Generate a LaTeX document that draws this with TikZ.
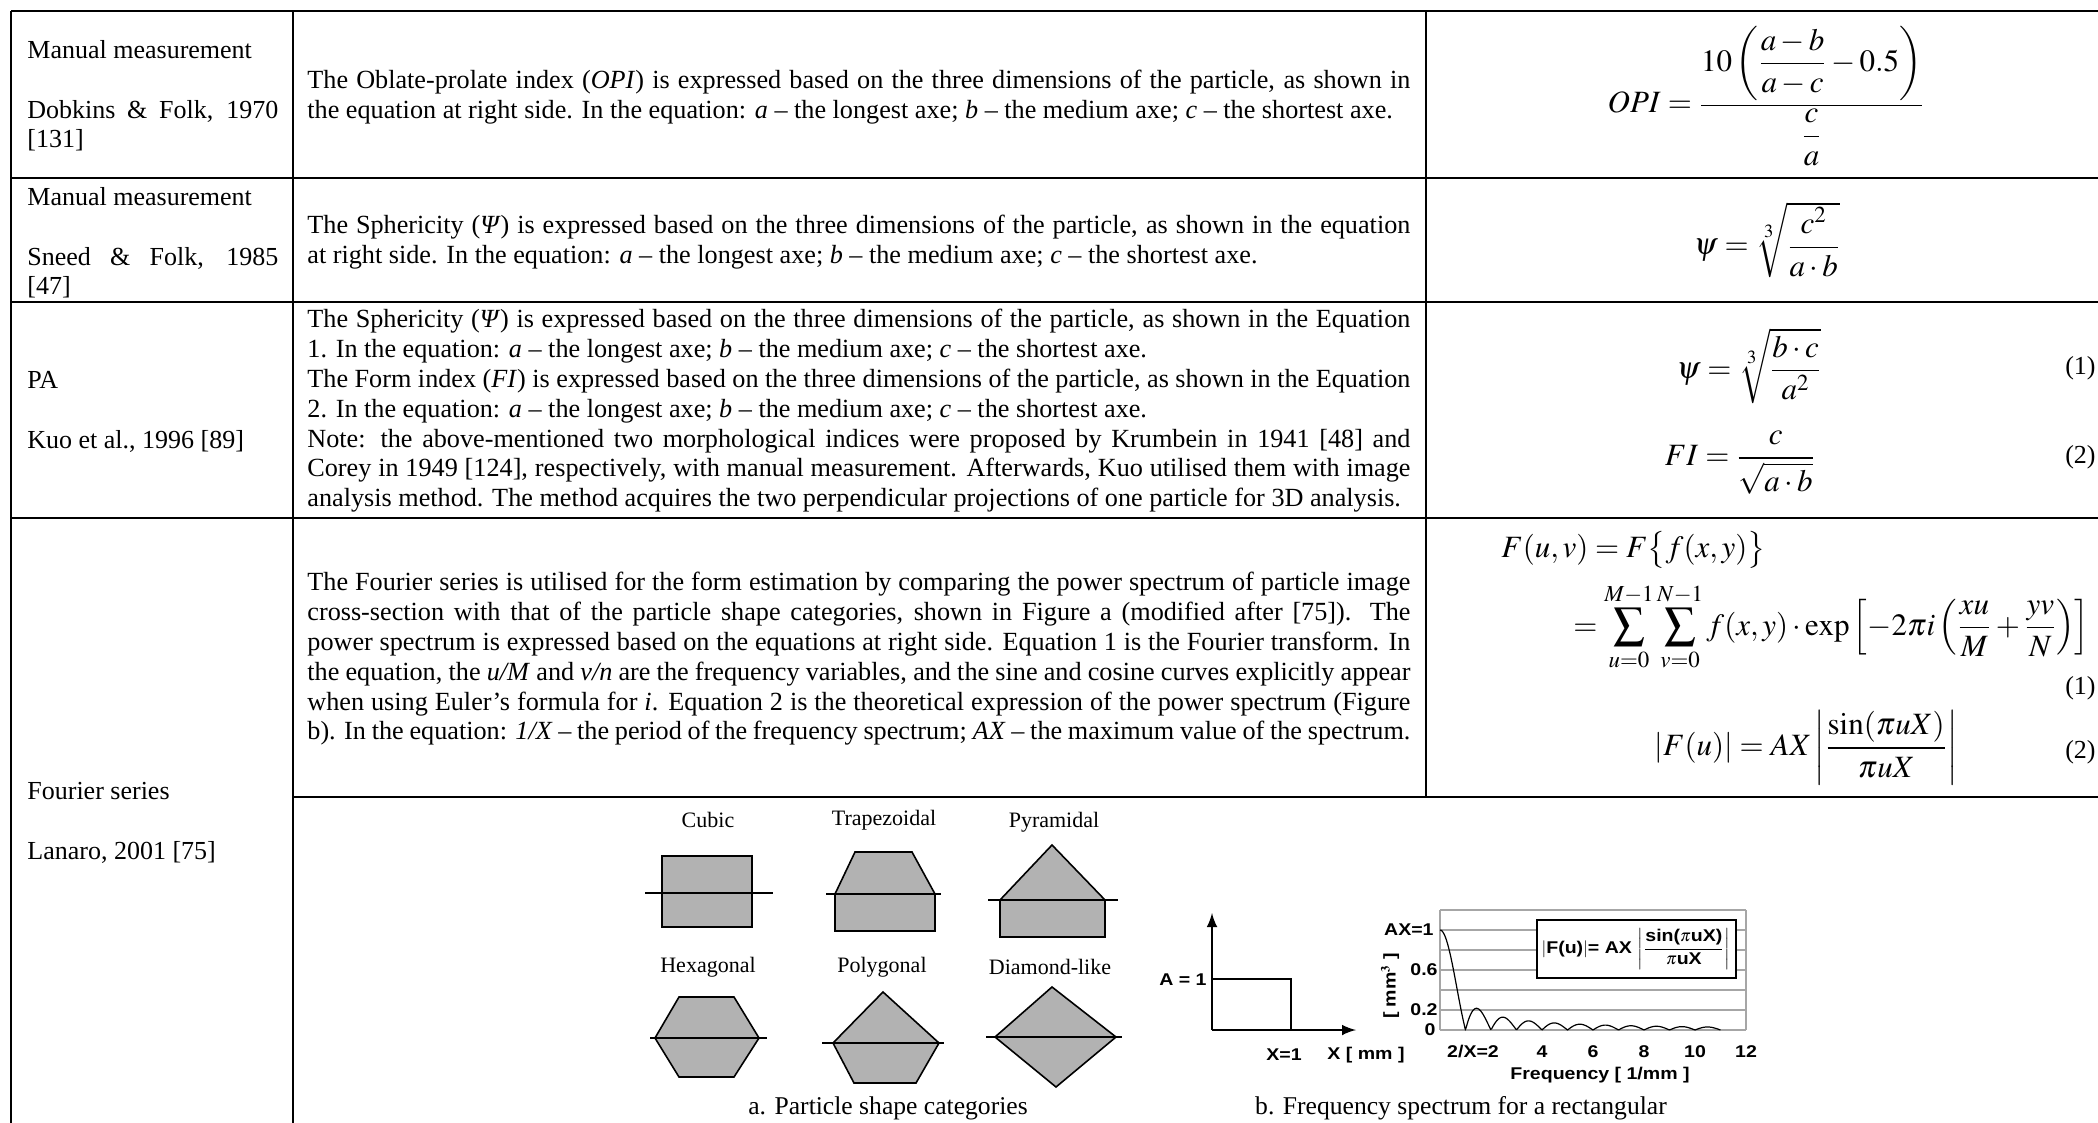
\documentclass[tikz,border=0pt]{standalone}
\usepackage{amsmath}
\usepackage{mathptmx}
\usepackage{fontspec}
\setmainfont{Liberation Serif}
\newfontfamily\chartfont{Liberation Sans}[FakeStretch=1.15]
\usetikzlibrary{positioning, calc}

\tikzset{
  hrule/.style={line width=1.1pt},
  vrule/.style={line width=0.9pt},
  cellone/.style={anchor=west, inner sep=0pt, text width=125.5pt, align=justify, font=\fontsize{13}{14.9}\selectfont},
  celltwo/.style={anchor=west, inner sep=0pt, text width=551.5pt, align=justify, font=\fontsize{13.1}{14.9}\selectfont},
  eqn/.style={inner sep=0pt, font=\fontsize{15.5}{18}\selectfont},
  eqnum/.style={anchor=east, inner sep=0pt, font=\fontsize{13}{15}\selectfont},
  shapefill/.style={draw, line width=0.8pt, fill=gray!60},
  cutline/.style={line width=1pt},
  shapelbl/.style={inner sep=0pt, font=\fontsize{11}{13}\selectfont},
  caption/.style={inner sep=0pt, font=\fontsize{12.8}{14.8}\selectfont},
  chartlbl/.style={inner sep=0pt, font=\chartfont\bfseries\fontsize{8.5}{10}\selectfont},
  gridln/.style={draw=gray!70, line width=0.7pt},
}

\begin{document}
\begin{tikzpicture}[x=0.5pt, y=-0.5pt]
  \useasboundingbox (0,0) rectangle (2098,1123);

  % table rules
  \foreach \yy in {11,178,302,518}
    \draw[hrule] (11,\yy) -- (2098,\yy);
  \draw[hrule] (293,797) -- (2098,797);
  \draw[vrule] (11,11) -- (11,1123);
  \draw[vrule] (293,11) -- (293,1123);
  \draw[vrule] (1426,11) -- (1426,797);

  % first column
  \node[cellone] (src1) at (27,96) {Manual measurement\\[14.9pt]Dobkins \& Folk, 1970 [131]};
  \node[cellone] (src2) at (27,243) {Manual measurement\\[14.9pt]Sneed \& Folk, 1985\linebreak{}[47]};
  \node[cellone] (src3) at (27,412) {PA\\[14.9pt]Kuo et al., 1996 [89]};
  \node[cellone] (src4) at (27,823) {Fourier series\\[14.9pt]Lanaro, 2001 [75]};

  % second column
  \node[celltwo] (desc1) at (307,97) {The Oblate-prolate index (\textit{OPI}) is expressed based on the three dimensions of the particle, as shown in\linebreak the equation at right side. In the equation: \textit{a} -- the longest axe; \textit{b} -- the medium axe; \textit{c} -- the shortest axe.};
  \node[celltwo] (desc2) at (307,242) {The Sphericity (\textit{Ψ}) is expressed based on the three dimensions of the particle, as shown in the equation\linebreak at right side. In the equation: \textit{a} -- the longest axe; \textit{b} -- the medium axe; \textit{c} -- the shortest axe.};
  \node[celltwo] (desc3) at (307,411) {The Sphericity (\textit{Ψ}) is expressed based on the three dimensions of the particle, as shown in the Equation\linebreak 1. In the equation: \textit{a} -- the longest axe; \textit{b} -- the medium axe; \textit{c} -- the shortest axe.\\
    The Form index (\textit{FI}) is expressed based on the three dimensions of the particle, as shown in the Equation\linebreak 2. In the equation: \textit{a} -- the longest axe; \textit{b} -- the medium axe; \textit{c} -- the shortest axe.\\
    Note: the above-mentioned two morphological indices were proposed by Krumbein in 1941 [48] and\linebreak Corey in 1949 [124], respectively, with manual measurement. Afterwards, Kuo utilised them with image\linebreak analysis method. The method acquires the two perpendicular projections of one particle for 3D analysis.};
  \node[celltwo] (desc4) at (307,659) {The Fourier series is utilised for the form estimation by comparing the power spectrum of particle image\linebreak cross-section with that of the particle shape categories, shown in Figure a (modified after [75]). The\linebreak power spectrum is expressed based on the equations at right side. Equation 1 is the Fourier transform. In\linebreak the equation, the \textit{u/M} and \textit{v/n} are the frequency variables, and the sine and cosine curves explicitly appear\linebreak when using Euler’s formula for \textit{i}. Equation 2 is the theoretical expression of the power spectrum (Figure\linebreak b). In the equation: \textit{1/X} -- the period of the frequency spectrum; \textit{AX} -- the maximum value of the spectrum.};

  % third column
  \node[eqn] (opi) at (1766,96) {$OPI=\dfrac{10\left(\dfrac{a-b}{a-c}-0.5\right)}{\dfrac{c}{a}}$};
  \node[eqn] (psione) at (1767,240) {$\psi=\sqrt[3]{\dfrac{c^2}{a\cdot b}}$};
  \node[eqn] (psitwo) at (1749,366) {$\psi=\sqrt[3]{\dfrac{b\cdot c}{a^2}}$};
  \node[eqnum] (num1) at (2096,368) {(1)};
  \node[eqn] (fi) at (1740,463) {$FI=\dfrac{c}{\sqrt{a\cdot b}}$};
  \node[eqnum] (num2) at (2096,457) {(2)};
  \node[eqn, anchor=west] (fourier) at (1501,550) {$F(u,v)=F\bigl\{f(x,y)\bigr\}$};
  \node[eqn, anchor=east] (fsum) at (2090,627) {$=\displaystyle\sum_{u=0}^{M-1}\sum_{v=0}^{N-1}f(x,y)\cdot\exp\left[-2\pi i\left(\frac{xu}{M}+\frac{yv}{N}\right)\right]$};
  \node[eqnum] (num3) at (2096,688) {(1)};
  \node[eqn] (power) at (1806,748) {$\left|F(u)\right|=AX\left|\dfrac{\sin(\pi uX)}{\pi uX}\right|$};
  \node[eqnum] (num4) at (2096,752) {(2)};

  % figure a: particle shape categories
  \node[shapelbl] (cubic) at (708,820) {Cubic};
  \node[shapelbl] (trap) at (884,820) {Trapezoidal};
  \node[shapelbl] (pyr) at (1054,822) {Pyramidal};
  \node[shapelbl] (hex) at (708,967) {Hexagonal};
  \node[shapelbl] (poly) at (882,967) {Polygonal};
  \node[shapelbl] (diam) at (1050,967) {Diamond-like};

  \draw[shapefill] (662,856) rectangle (752,927);
  \draw[cutline] (645,893) -- (773,893);
  \draw[shapefill] (855,852) -- (912,852) -- (935,894) -- (935,931) -- (835,931) -- (835,894) -- cycle;
  \draw[cutline] (826,894) -- (941,894);
  \draw[shapefill] (1052,845) -- (1105,900) -- (1105,937) -- (1000,937) -- (1000,900) -- cycle;
  \draw[cutline] (988,900) -- (1118,900);
  \draw[shapefill] (679,997) -- (734,997) -- (759,1038) -- (734,1077) -- (679,1077) -- (655,1038) -- cycle;
  \draw[cutline] (650,1038) -- (767,1038);
  \draw[shapefill] (883,992) -- (939,1043) -- (916,1083) -- (854,1083) -- (833,1043) -- cycle;
  \draw[cutline] (822,1043) -- (944,1043);
  \draw[shapefill] (1052,987) -- (1116,1037) -- (1056,1087) -- (995,1037) -- cycle;
  \draw[cutline] (986,1037) -- (1122,1037);

  \node[caption] (capa) at (888,1108) {a. Particle shape categories};

  % figure b: rectangle and its spectrum
  \draw[line width=1.4pt, -latex] (1212,1030) -- (1212,913);
  \draw[line width=1.4pt, -latex] (1212,1030) -- (1356,1030);
  \draw[line width=0.7pt] (1212,979) -- (1291,979) -- (1291,1030);
  \node[chartlbl, anchor=east] (amp) at (1207,980) {A = 1};
  \node[chartlbl] (xone) at (1284,1055) {X=1};
  \node[chartlbl] (xunit) at (1366,1055) {X [ mm ]};

  \foreach \yy in {910,930,...,1030}
    \draw[gridln] (1440,\yy) -- (1746,\yy);
  \draw[gridln] (1440,910) -- (1440,1030);
  \draw[gridln] (1746,910) -- (1746,1030);
  \draw[line width=0.6pt] plot[domain=0.001:11, samples=300, smooth]
    ({1440+25.5*\x}, {1030-100*abs(sin(180*\x)/(3.14159*\x))});

  \draw[fill=white, line width=0.6pt] (1537,920) rectangle (1736,978);
  \node[chartlbl] (legend) at (1636,949) {$\left|\text{F(u)}\right|$= AX $\left|\dfrac{\text{sin(}\pi\text{uX)}}{\pi\text{uX}}\right|$};

  \node[chartlbl, anchor=east] (yone) at (1434,930) {AX=1};
  \node[chartlbl, anchor=east] (ysix) at (1438,970) {0.6};
  \node[chartlbl, anchor=east] (ytwo) at (1438,1010) {0.2};
  \node[chartlbl, anchor=east] (yzero) at (1436,1030) {0};
  \node[chartlbl, rotate=90] (yunit) at (1390,986) {[ mm$^{\mathbf{3}}$ ]};
  \node[chartlbl] (ftwo) at (1473,1052) {2/X=2};
  \foreach \f in {4,6,8,10,12}
    \node[chartlbl] (f\f) at ({1440+25.5*\f},1052) {\f};
  \node[chartlbl] (faxis) at (1600,1075) {Frequency [ 1/mm ]};

  \node[caption] (capb) at (1461,1108) {b. Frequency spectrum for a rectangular};
\end{tikzpicture}
\end{document}
